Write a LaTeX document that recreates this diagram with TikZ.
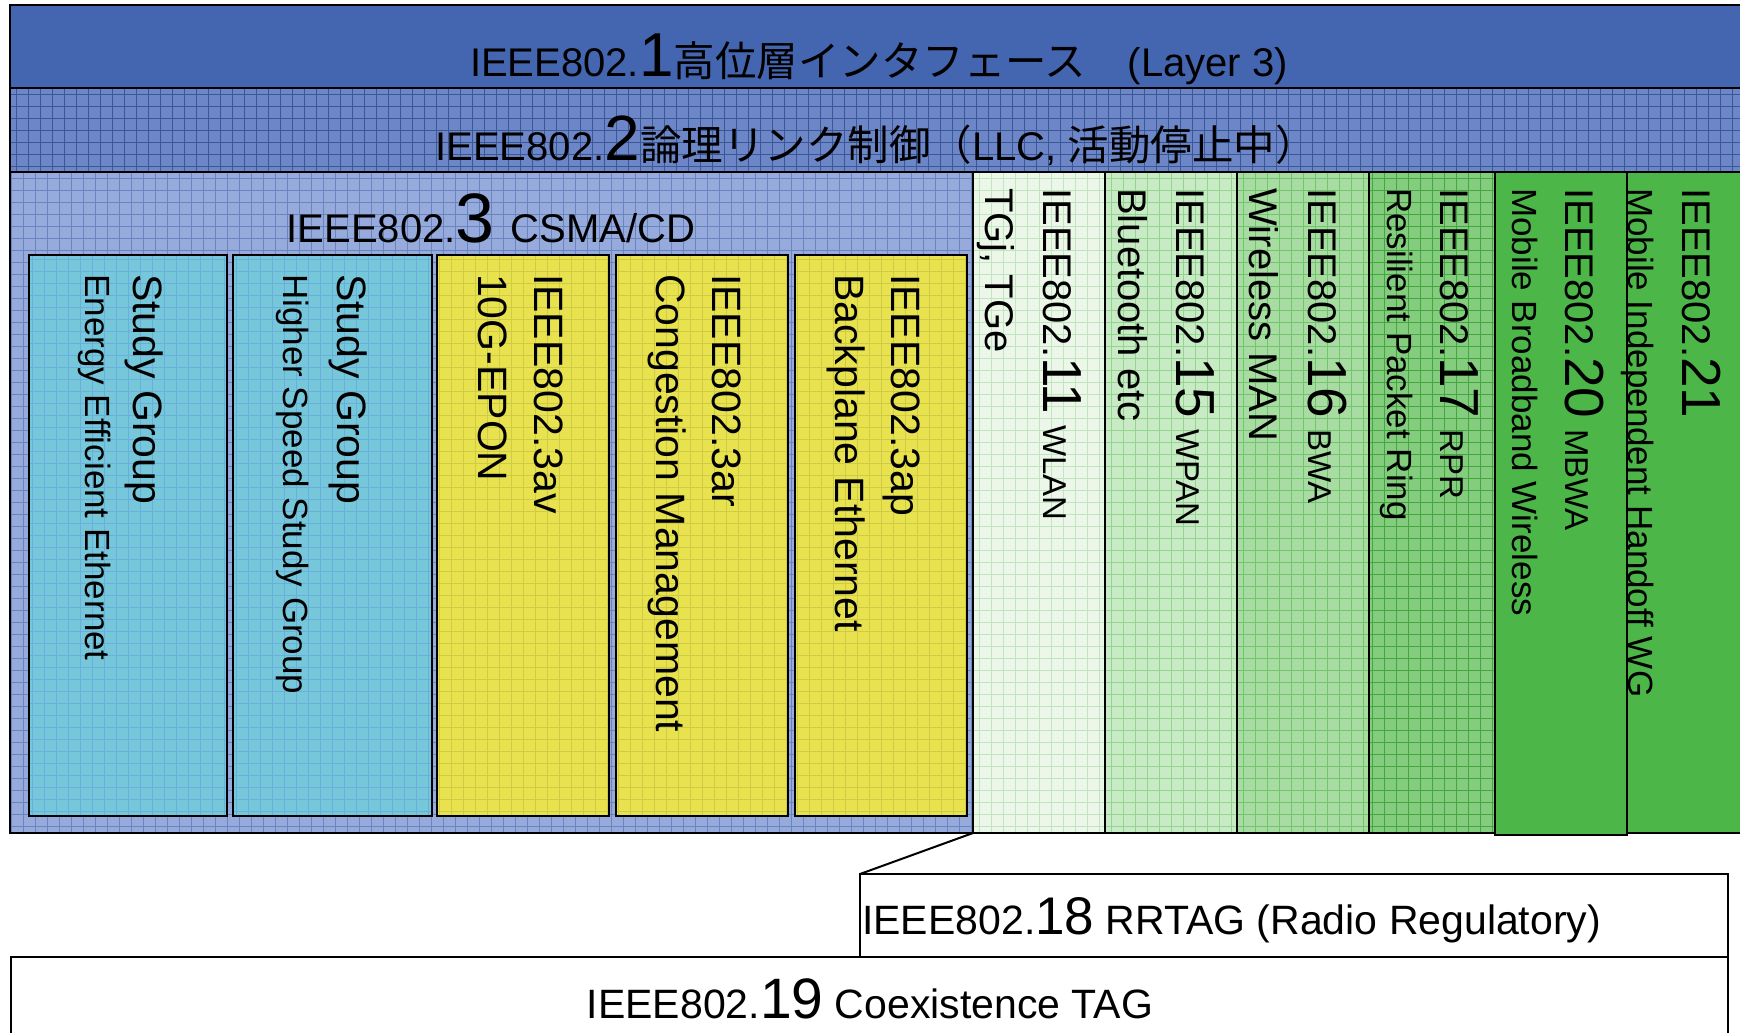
\documentclass[tikz,border=0pt]{standalone}
\usepackage{fontspec}
\setmainfont{Liberation Sans}
\newfontfamily\jpfont{Noto Sans CJK JP}
\usepackage{tikz}

\definecolor{layerone}{RGB}{68,102,176}
\definecolor{layertwo}{RGB}{108,134,199}
\definecolor{layerthree}{RGB}{150,170,220}
\definecolor{sgcyan}{RGB}{118,199,217}
\definecolor{tfyellow}{RGB}{231,226,78}
\definecolor{gwlan}{RGB}{236,247,234}
\definecolor{gwpan}{RGB}{200,234,196}
\definecolor{gbwa}{RGB}{168,220,163}
\definecolor{grpr}{RGB}{132,205,126}
\definecolor{gfull}{RGB}{76,183,72}

\newcommand{\sz}[1]{\fontsize{#1}{#1}\selectfont}

\tikzset{
  blk/.style={draw=black,line width=2pt,anchor=north west,inner sep=0pt,outer sep=0pt},
  col/.style={blk,line width=1.5pt,minimum height=661pt},
  sub/.style={blk,line width=2.5pt,minimum height=561pt},
  tex/.style={path picture={\draw[#1,line width=0.6pt,step=12pt]
    (path picture bounding box.south west) grid (path picture bounding box.north east);}},
  vtxt/.style={rotate=-90,anchor=base west,inner sep=0pt},
  htxt/.style={anchor=base,inner sep=0pt}
}

\begin{document}
\begin{tikzpicture}[x=1pt,y=-1pt]
\useasboundingbox (0,0) rectangle (1740,1033);
\fill[white] (0,0) rectangle (1740,1033);

% layers 1 and 2
\node[blk,fill=layerone,minimum width=1740pt,minimum height=83pt] (l1) at (10,5) {};
\node[blk,fill=layertwo,tex=layerone!85!black,minimum width=1740pt,minimum height=84pt] (l2) at (10,88) {};
\node[htxt] (t1) at (879,77) {\sz{40}IEEE802.{\sz{62}1}{\jpfont\sz{41.5}高位層インタフェース　}(Layer 3)};
\node[htxt] (t2) at (876,160) {\sz{40}IEEE802.{\sz{64}2}{\jpfont\sz{41.5}論理リンク制御（}LLC, {\jpfont\sz{41.5}活動停止中）}};

% 802.3
\node[blk,fill=layerthree,tex=layerone!80,minimum width=963pt,minimum height=661pt] (l3) at (10,172) {};
\node[htxt] (t3) at (491,242) {\sz{40}IEEE802.{\sz{70}3}\hspace{16pt}CSMA/CD};

\node[sub,fill=sgcyan,tex=sgcyan!88!blue,minimum width=198pt] (eee) at (29,255) {};
\node[sub,fill=sgcyan,tex=sgcyan!88!blue,minimum width=199pt] (hss) at (233,255) {};
\node[sub,fill=tfyellow,tex=tfyellow!90!black,minimum width=172pt] (av) at (437,255) {};
\node[sub,fill=tfyellow,tex=tfyellow!90!black,minimum width=172pt] (ar) at (616,255) {};
\node[sub,fill=tfyellow,tex=tfyellow!90!black,minimum width=172pt] (ap) at (795,255) {};

\node[vtxt] (eeea) at (133,274) {\sz{41}Study Group};
\node[vtxt] (eeeb) at (85,274) {\sz{35}Energy Efficient Ethernet};
\node[vtxt] (hssa) at (337,274) {\sz{41}Study Group};
\node[vtxt] (hssb) at (283,274) {\sz{35}Higher Speed Study Group};
\node[vtxt] (ava) at (534,274) {\sz{41}IEEE802.3av};
\node[vtxt] (avb) at (478,274) {\sz{41}10G-EPON};
\node[vtxt] (ara) at (712,274) {\sz{41}IEEE802.3ar};
\node[vtxt] (arb) at (656,274) {\sz{41}Congestion Management};
\node[vtxt] (apa) at (891,274) {\sz{41}IEEE802.3ap};
\node[vtxt] (apb) at (835,274) {\sz{41}Backplane Ethernet};

% wireless columns
\node[col,fill=gwlan,tex=gfull!35,minimum width=132pt] (c11) at (973,172) {};
\node[col,fill=gwpan,tex=gfull!60,minimum width=132pt] (c15) at (1105,172) {};
\node[col,fill=gbwa,tex=gfull!80,minimum width=132pt] (c16) at (1237,172) {};
\node[col,fill=grpr,tex=gfull!90!black,minimum width=126pt] (c17) at (1369,172) {};
\node[col,fill=gfull,line width=2pt,minimum width=132pt,minimum height=663pt] (c20) at (1495,172) {};
\node[col,fill=gfull,minimum width=130pt] (c21) at (1627,172) {};

\node[vtxt] (c11a) at (1043,188) {\sz{40}IEEE802.{\sz{55}11} {\sz{33}WLAN}};
\node[vtxt] (c11b) at (985,188) {\sz{40}TGj, TGe};
\node[vtxt] (c15a) at (1176,188) {\sz{40}IEEE802.{\sz{55}15} {\sz{33}WPAN}};
\node[vtxt] (c15b) at (1118,188) {\sz{40}Bluetooth etc};
\node[vtxt] (c16a) at (1308,188) {\sz{40}IEEE802.{\sz{55}16} {\sz{33}BWA}};
\node[vtxt] (c16b) at (1249,188) {\sz{40}Wireless MAN};
\node[vtxt] (c17a) at (1440,188) {\sz{40}IEEE802.{\sz{55}17} {\sz{33}RPR}};
\node[vtxt] (c17b) at (1387,188) {\sz{35}Resilient Packet Ring};
\node[vtxt] (c20a) at (1565,188) {\sz{40}IEEE802.{\sz{55}20} {\sz{33}MBWA}};
\node[vtxt] (c20b) at (1512,188) {\sz{35}Mobile Broadband Wireless};
\node[vtxt] (c21a) at (1682,188) {\sz{40}IEEE802.{\sz{55}21}};
\node[vtxt] (c21b) at (1628,188) {\sz{35}Mobile Independent Handoff WG};

% TAGs
\node[blk,fill=white,minimum width=1717pt,minimum height=120pt] (tag19) at (11,957) {};
\node[blk,fill=white,minimum width=868pt,minimum height=83pt] (tag18) at (860,874) {};
\draw[line width=2pt] (l3.south east) -- (tag18.north west);
\node[anchor=base west,inner sep=0pt] (t18) at (862,934) {\sz{41}IEEE802.{\sz{53}18} RRTAG (Radio Regulatory)};
\node[htxt] (t19) at (870,1018) {\sz{41}IEEE802.{\sz{57}19} Coexistence TAG};

\end{tikzpicture}
\end{document}
